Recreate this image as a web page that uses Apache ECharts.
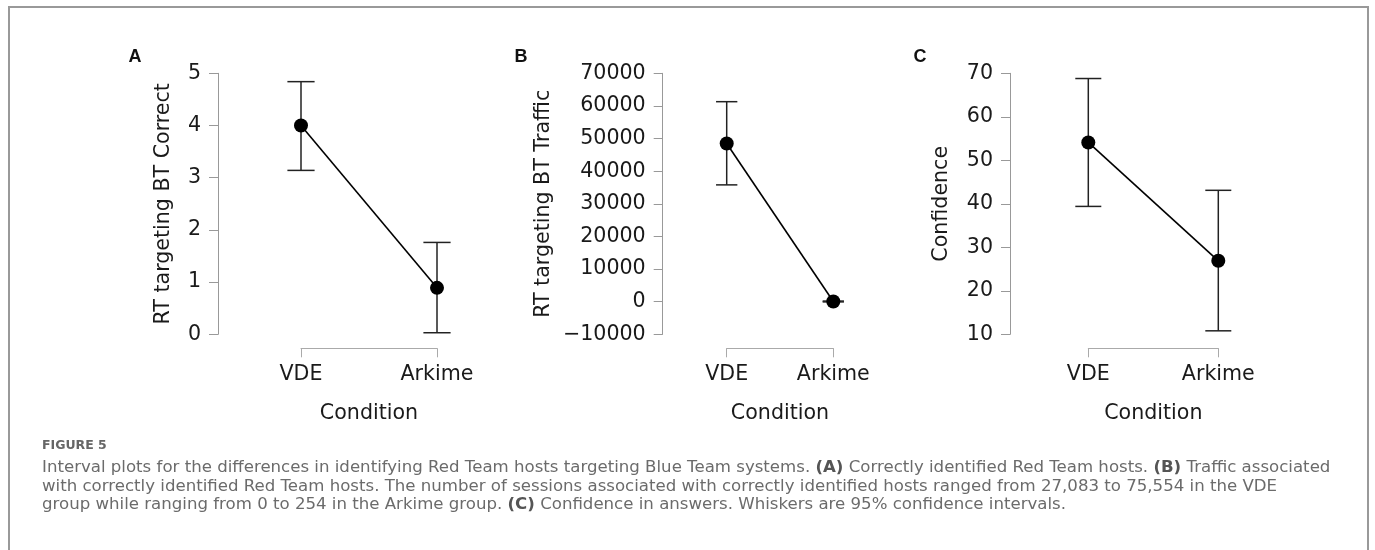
<!DOCTYPE html>
<html>
<head>
<meta charset="utf-8">
<script src="https://cdn.jsdelivr.net/npm/echarts@6/dist/echarts.min.js"></script>
<style>
  html, body { margin: 0; padding: 0; background: #fff; }
  #chart { width: 1375px; height: 550px; }
</style>
</head>
<body>
<div id="chart"></div>
<script>
// categories
const conditions = ['VDE', 'Arkime']

// panel A: RT targeting BT Correct
const correctMean = [4.0, 0.89]
const correctLow = [3.14, 0.03]
const correctHigh = [4.84, 1.76]

// panel B: RT targeting BT Traffic
const trafficMean = [48500, 60]
const trafficLow = [35800, -70]
const trafficHigh = [61300, 190]

// panel C: Confidence
const confMean = [54.1, 26.9]
const confLow = [39.4, 10.8]
const confHigh = [68.8, 43.1]

const captionLines = [
  'Interval plots for the differences in identifying Red Team hosts targeting Blue Team systems. {b|(A)} Correctly identified Red Team hosts. {b|(B)} Traffic associated',
  'with correctly identified Red Team hosts. The number of sessions associated with correctly identified hosts ranged from 27,083 to 75,554 in the VDE',
  'group while ranging from 0 to 254 in the Arkime group. {b|(C)} Confidence in answers. Whiskers are 95% confidence intervals.'
]

const FONT = 'DejaVu Sans'
const CAP_FONT = 'DejaVu Sans'
const INK = '#1a1a1a'
const FS = 20.6

// panel layout
const panels = [
  { left: 301, width: 136, offset: 83, nameGap: 44, name: 'RT targeting BT Correct', min: 0, max: 5, interval: 1, mean: correctMean, low: correctLow, high: correctHigh },
  { left: 726.7, width: 106.6, offset: 64, nameGap: 109, name: 'RT targeting BT Traffic', min: -10000, max: 70000, interval: 10000, mean: trafficMean, low: trafficLow, high: trafficHigh },
  { left: 1088.3, width: 130, offset: 78.3, nameGap: 58, name: 'Confidence', min: 10, max: 70, interval: 10, mean: confMean, low: confLow, high: confHigh }
]

const chart = echarts.init(document.getElementById('chart'))

const grid = panels.map(p => ({ left: p.left, width: p.width, top: 73.3, height: 261 }))

const xAxis = panels.map((p, i) => ({
  type: 'category',
  gridIndex: i,
  data: conditions,
  boundaryGap: false,
  offset: 14,
  name: 'Condition',
  nameLocation: 'middle',
  nameGap: 55,
  nameTextStyle: { fontFamily: FONT, fontSize: FS, color: INK },
  axisLine: { show: true, onZero: false, lineStyle: { color: '#aaa', width: 1 } },
  axisTick: { show: true, length: 9, lineStyle: { color: '#aaa' } },
  axisLabel: { fontFamily: FONT, fontSize: FS, color: INK, margin: 16 },
  splitLine: { show: false }
}))

const yAxis = panels.map((p, i) => ({
  type: 'value',
  gridIndex: i,
  min: p.min,
  max: p.max,
  interval: p.interval,
  offset: p.offset,
  name: p.name,
  nameLocation: 'middle',
  nameGap: p.nameGap,
  nameTextStyle: { fontFamily: FONT, fontSize: FS, color: INK },
  axisLine: { show: true, lineStyle: { color: '#999', width: 1 } },
  axisTick: { show: true, length: 9, lineStyle: { color: '#999' } },
  axisLabel: {
    fontFamily: FONT, fontSize: FS, color: INK, margin: 17,
    formatter: v => (v < 0 ? '\u2212' + Math.abs(v) : String(v))
  },
  splitLine: { show: false }
}))

const series = []
panels.forEach((p, i) => {
  // whiskers
  series.push({
    type: 'custom',
    xAxisIndex: i,
    yAxisIndex: i,
    clip: false,
    z: 2,
    data: conditions.map((c, k) => [k, p.low[k], p.high[k]]),
    encode: { x: 0, y: [1, 2] },
    renderItem: (params, api) => {
      const lo = api.coord([api.value(0), api.value(1)])
      const hi = api.coord([api.value(0), api.value(2)])
      const half = api.size([1, 0])[0] * 0.1
      const st = { stroke: '#222', lineWidth: 1.5 }
      return {
        type: 'group',
        children: [
          { type: 'line', shape: { x1: lo[0], y1: lo[1], x2: hi[0], y2: hi[1] }, style: st },
          { type: 'line', shape: { x1: lo[0] - half, y1: lo[1], x2: lo[0] + half, y2: lo[1] }, style: st },
          { type: 'line', shape: { x1: hi[0] - half, y1: hi[1], x2: hi[0] + half, y2: hi[1] }, style: st }
        ]
      }
    }
  })
  // means
  series.push({
    type: 'line',
    xAxisIndex: i,
    yAxisIndex: i,
    clip: false,
    z: 3,
    data: p.mean,
    symbol: 'circle',
    symbolSize: 14,
    itemStyle: { color: '#000' },
    lineStyle: { color: '#000', width: 1.6 },
    animation: false
  })
})

const letterStyle = { fontFamily: 'Liberation Sans', fontWeight: 'bold', fontSize: 18, fill: '#111', align: 'center', verticalAlign: 'middle' }
const graphic = [
  { type: 'rect', shape: { x: 9, y: 7, width: 1359, height: 560 }, style: { fill: null, stroke: '#999', lineWidth: 2 }, silent: true },
  { type: 'text', x: 135, y: 57, style: Object.assign({ text: 'A' }, letterStyle) },
  { type: 'text', x: 521, y: 57, style: Object.assign({ text: 'B' }, letterStyle) },
  { type: 'text', x: 920, y: 57, style: Object.assign({ text: 'C' }, letterStyle) },
  { type: 'text', x: 42, y: 446, style: { text: 'FIGURE 5', fontFamily: CAP_FONT, fontWeight: 'bold', fontSize: 12.5, fill: '#666', verticalAlign: 'middle' } }
]
captionLines.forEach((t, k) => {
  graphic.push({
    type: 'text',
    x: 42,
    y: 468 + k * 18.5,
    style: {
      text: t,
      fontFamily: CAP_FONT,
      fontSize: 16.6,
      fill: '#6b6b6b',
      verticalAlign: 'middle',
      rich: { b: { fontFamily: CAP_FONT, fontSize: 16.6, fontWeight: 'bold', fill: '#555' } }
    }
  })
})

chart.setOption({
  animation: false,
  grid,
  xAxis,
  yAxis,
  series,
  graphic
})
</script>
</body>
</html>
